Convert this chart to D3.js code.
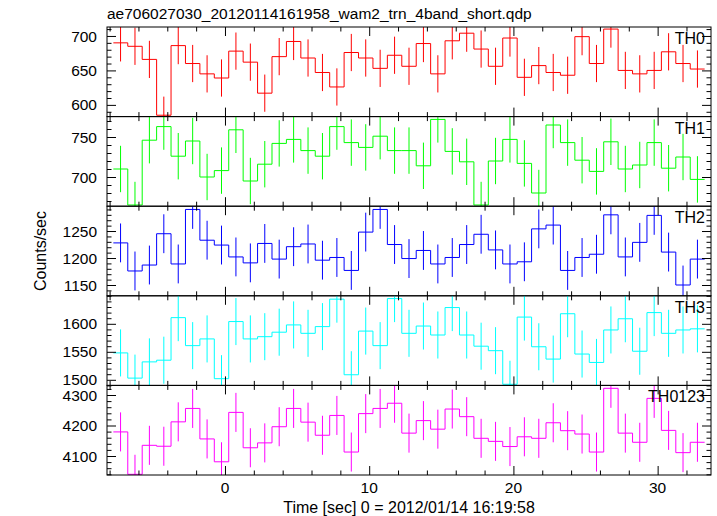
<!DOCTYPE html>
<html><head><meta charset="utf-8">
<script src="https://cdn.jsdelivr.net/npm/d3@7"></script>
<style>
html,body{margin:0;padding:0;background:#fff;}
svg{display:block;font-family:"Liberation Sans",Arial,Helvetica,sans-serif;}
</style></head><body>
<svg id="chart" width="717" height="516"></svg>
<script>
// ---- data ----
const timeBins = [-7.24,-6.24,-5.24,-4.24,-3.24,-2.24,-1.24,-0.24,0.76,1.76,2.76,3.76,4.76,5.76,6.76,7.76,8.76,9.76,10.76,11.76,12.76,13.76,14.76,15.76,16.76,17.76,18.76,19.76,20.76,21.76,22.76,23.76,24.76,25.76,26.76,27.76,28.76,29.76,30.76,31.76,32.76];
const binHalfWidth = 0.5;
const seriesNames = ["TH0","TH1","TH2","TH3","TH0123"];
const th0 = [690,685,666,585,686,660,645,639,678,662,617,670,692,668,647,626,676,668,653,672,656,689,645,693,704,681,656,697,640,657,647,643,699,660,710,650,645,650,677,660,652];
const th1 = [710,665,746,763,726,745,700,708,759,695,716,742,747,733,726,763,743,737,751,733,733,714,772,732,719,665,720,747,717,680,765,743,721,707,744,710,715,743,711,725,697];
const th2 = [1228,1176,1187,1245,1189,1290,1233,1224,1202,1191,1227,1198,1221,1226,1196,1201,1177,1248,1290,1225,1199,1214,1189,1201,1225,1244,1215,1189,1193,1254,1261,1177,1201,1207,1280,1202,1229,1279,1211,1150,1198];
const th3 = [1548,1503,1532,1535,1611,1561,1573,1502,1604,1573,1577,1585,1598,1583,1595,1644,1509,1587,1561,1645,1583,1596,1580,1629,1580,1560,1552,1492,1612,1559,1537,1618,1546,1531,1589,1609,1551,1620,1583,1589,1591];
const th0123 = [4179,4040,4135,4132,4212,4256,4156,4081,4243,4127,4143,4196,4256,4211,4168,4233,4113,4239,4256,4273,4175,4216,4188,4254,4229,4158,4148,4131,4163,4158,4209,4183,4172,4113,4322,4175,4145,4289,4184,4111,4145];
const errHalf = [27,29,36,42,64];
const yTickLabels = [[600,650,700],[700,750],[1150,1200,1250],[1500,1550,1600],[4100,4200,4300]];
const yMinorStep = [10,10,10,10,20];
const yRanges = [[583,713],[663.5,775.5],[1130,1296],[1490,1650],[4037.7,4331.5]];
const xRange = [-8.18,33.7];
const xTickLabels = [0,10,20,30];
const xMinorStep = 2;
const colors = ["#ff0000","#00ff00","#0000ff","#00ffff","#ff00ff"];
const titleText = "ae706027030_20120114161958_wam2_trn_4band_short.qdp";
const xLabelText = "Time [sec] 0 = 2012/01/14 16:19:58";
const yLabelText = "Counts/sec";

const series = [th0, th1, th2, th3, th0123];

// ---- layout ----
const W = 717, H = 516;
const L = 107, R = 711, T = 27, B = 475;
const nP = series.length;
const pH = (B - T) / nP;
const minorLen = 4.5, majorLen = 9;
const fs = 15.5;

const svg = d3.select("#chart");
const x = d3.scaleLinear().domain(xRange).range([L, R]);

const xMinor = d3.range(Math.ceil(xRange[0]/xMinorStep)*xMinorStep, xRange[1], xMinorStep).filter(v => v % 10 !== 0);
const xMajor = d3.range(Math.ceil(xRange[0]/10)*10, xRange[1], 10);

series.forEach((vals, i) => {
  const top = T + i * pH, bot = top + pH;
  const y = d3.scaleLinear().domain(yRanges[i]).range([bot, top]);
  const g = svg.append("g");
  const cid = "clip" + i;
  svg.append("clipPath").attr("id", cid).append("rect")
    .attr("x", L).attr("y", top).attr("width", R - L).attr("height", pH);

  const data = timeBins.map((t, k) => ({t, v: vals[k], e: errHalf[i]}));
  const pts = data.flatMap(d => [[d.t - binHalfWidth, d.v], [d.t + binHalfWidth, d.v]]);
  const line = d3.line().x(p => x(p[0])).y(p => y(p[1]));
  const dg = g.append("g").attr("clip-path", `url(#${cid})`);
  dg.append("path").attr("d", line(pts)).attr("fill", "none")
    .attr("stroke", colors[i]).attr("stroke-width", 1);
  dg.selectAll("line.err").data(data).join("line").attr("class","err")
    .attr("x1", d => x(d.t)).attr("x2", d => x(d.t))
    .attr("y1", d => y(d.v - d.e)).attr("y2", d => y(d.v + d.e))
    .attr("stroke", colors[i]).attr("stroke-width", 1);

  // axes (ticks inward on all four sides)
  const yMin = yMinorStep[i];
  const yAll = d3.range(Math.ceil(yRanges[i][0]/yMin)*yMin, yRanges[i][1], yMin);
  const yMaj = yAll.filter(v => v % 50 === 0 && (yMin !== 20 || v % 100 === 0));
  const yMinr = yAll.filter(v => !yMaj.includes(v));
  const ax = (gen, tv, len, tr) => {
    const a = g.append("g").attr("transform", tr)
      .call(gen.tickValues(tv).tickSizeInner(-len).tickSizeOuter(0).tickFormat(""));
    a.select(".domain").remove();
    a.selectAll("line").attr("stroke", "#000");
  };
  ax(d3.axisBottom(x), xMinor, minorLen, `translate(0,${bot})`);
  ax(d3.axisBottom(x), xMajor, majorLen, `translate(0,${bot})`);
  ax(d3.axisTop(x), xMinor, minorLen, `translate(0,${top})`);
  ax(d3.axisTop(x), xMajor, majorLen, `translate(0,${top})`);
  ax(d3.axisLeft(y), yMinr, minorLen, `translate(${L},0)`);
  ax(d3.axisLeft(y), yMaj, majorLen, `translate(${L},0)`);
  ax(d3.axisRight(y), yMinr, minorLen, `translate(${R},0)`);
  ax(d3.axisRight(y), yMaj, majorLen, `translate(${R},0)`);

  g.append("rect").attr("x", L).attr("y", top).attr("width", R - L).attr("height", pH)
    .attr("fill", "none").attr("stroke", "#000").attr("stroke-width", 1);

  g.selectAll("text.yl").data(yTickLabels[i]).join("text").attr("class","yl")
    .attr("x", L - 10).attr("y", d => y(d)).attr("dy", "0.36em")
    .attr("text-anchor", "end").attr("font-size", fs).text(d => d);

  g.append("text").attr("x", R - 6).attr("y", top + 17).attr("text-anchor", "end")
    .attr("font-size", 16).text(seriesNames[i]);

  if (i === nP - 1) {
    g.selectAll("text.xl").data(xTickLabels).join("text").attr("class","xl")
      .attr("x", d => x(d)).attr("y", bot + 18).attr("text-anchor", "middle")
      .attr("font-size", fs).text(d => d);
  }
});

svg.append("text").attr("x", L).attr("y", 19).attr("font-size", 15.5).text(titleText);
svg.append("text").attr("x", (L + R) / 2).attr("y", 513).attr("text-anchor", "middle")
  .attr("font-size", 16).text(xLabelText);
svg.append("text").attr("transform", `translate(46,${(T + B) / 2}) rotate(-90)`)
  .attr("text-anchor", "middle").attr("font-size", 16).text(yLabelText);
</script>
</body></html>
